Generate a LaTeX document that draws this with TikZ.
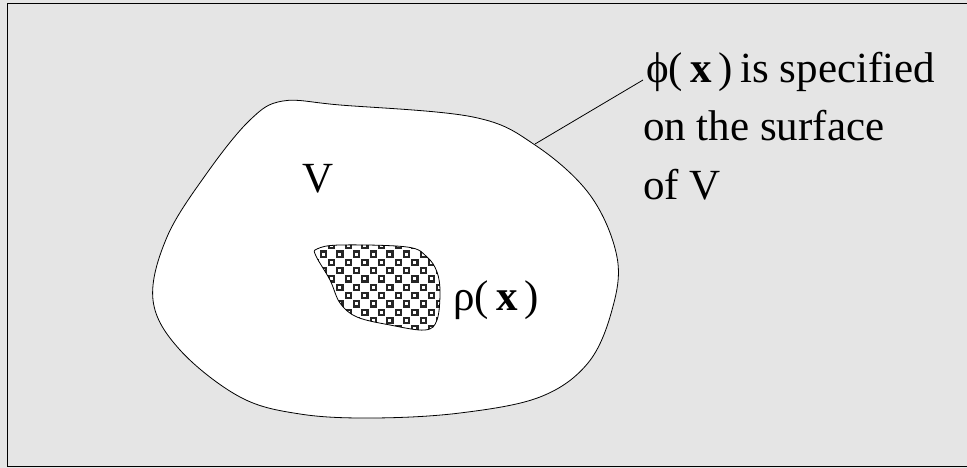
\documentclass[tikz,border=0pt]{standalone}
\usepackage{fontspec}
\setmainfont{Liberation Serif}
\usetikzlibrary{positioning}
\definecolor{bggray}{RGB}{229,229,229}

\begin{document}
\begin{tikzpicture}[x=1pt,y=-1pt,
 bigfont/.style={font=\fontsize{43}{59}\selectfont,inner sep=0pt},
 outline/.style={draw=black,line width=0.8pt},
 cell/.style={draw=black!85,fill=white,line width=2.2pt}]
\useasboundingbox (0,0) rectangle (967,468);
\fill[bggray] (0,0) rectangle (967,468);
\draw[line width=1.5pt] (7.5,3.5) rectangle (968,466.5);
% the volume V
\draw[outline,fill=white] plot[smooth cycle,tension=0.6] coordinates {
 (283,101) (340,105) (473,117) (535,145) (590,195) (617,257) (612,310)
 (588,363) (540,397) (460,413) (373,418) (300,414) (240,397) (180,350)
 (153,300) (167,237) (207,173) (250,120)};
% charge region
\begin{scope}
 \clip plot[smooth cycle,tension=0.6] coordinates {
  (317,249) (340,245) (407,247) (427,257) (437,272) (440,292) (437,320)
  (425,330) (390,325) (357,317) (340,303) (330,280) (316,256)};
 \foreach \m in {-2,0,...,10}
  \foreach \k in {-2,0,...,14} {
   \draw[cell] ({323.3+8.33*\k-2.6},{254+8.33*\m-2.6}) rectangle ++(5.2,5.2);
   \draw[cell] ({323.3+8.33*(\k+1)-2.6},{254+8.33*(\m+1)-2.6}) rectangle ++(5.2,5.2);
  }
\end{scope}
\draw[outline] plot[smooth cycle,tension=0.6] coordinates {
 (317,249) (340,245) (407,247) (427,257) (437,272) (440,292) (437,320)
 (425,330) (390,325) (357,317) (340,303) (330,280) (316,256)};

\node[bigfont,anchor=base west] (vol) at (302,193) {V};
\node[bigfont,anchor=base west] (rho) at (453,310) {ρ(\,\textbf{x}\,)};
\node[bigfont,anchor=base west] (spec) at (646,83)
 {ϕ(\,\textbf{x}\,)\,is specified};
\node[bigfont,anchor=base west] (spec2) at (643,141) {on the surface};
\node[bigfont,anchor=base west] (spec3) at (643,200) {of V};
\coordinate (surf) at (535,144);
\coordinate (lead) at (643,80);
\draw[line width=0.8pt] (surf) -- (lead);
\end{tikzpicture}
\end{document}
